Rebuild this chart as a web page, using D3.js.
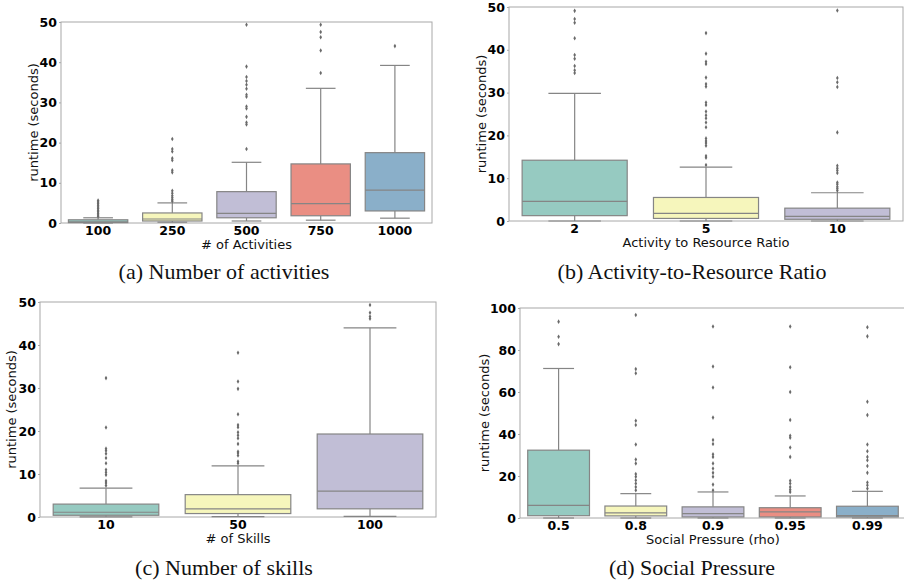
<!DOCTYPE html>
<html>
<head>
<meta charset="utf-8">
<script src="https://cdn.jsdelivr.net/npm/d3@7"></script>
<style>
body { margin: 0; background: #fff; }
</style>
</head>
<body>
<div id="chart"></div>
<script>
// data: [low whisker, q1, median, q3, high whisker]
var actCats = ["100", "250", "500", "750", "1000"];
var actStats = [[0, 0.1, 0.3, 0.8, 1.3], [0.2, 0.5, 1.0, 2.5, 5.0], [0.5, 1.3, 2.4, 7.8, 15.1],
    [0.7, 1.8, 4.8, 14.7, 33.5], [1.2, 3.0, 8.2, 17.5, 39.2]];
var actOut = [[1.6, 2.0, 2.4, 2.8, 3.2, 3.6, 4.0, 4.4, 4.8, 5.2, 5.6],
    [5.4, 5.8, 6.3, 6.8, 7.4, 8.0, 12.6, 13.1, 15.6, 16.1, 17.8, 18.4, 20.9],
    [18.4, 24.5, 25.0, 26.4, 28.5, 29.0, 31.4, 31.9, 33.4, 34.4, 35.3, 36.3, 38.9, 49.3],
    [37.3, 42.9, 46.2, 47.5, 49.3], [44.0]];

var ratioCats = ["2", "5", "10"];
var ratioStats = [[0, 1.25, 4.6, 14.2, 29.8], [0, 0.6, 1.8, 5.5, 12.6], [0, 0.4, 1.1, 3.0, 6.6]];
var ratioOut = [[34.6, 35.2, 36.2, 37.9, 38.8, 42.7, 46.3, 47.2, 49.1],
    [13.1, 14.8, 15.2, 17.6, 18.2, 18.7, 19.3, 21.9, 23.0, 24.0, 24.7, 25.6, 27.1, 27.7,
        31.4, 32.0, 33.5, 36.7, 37.2, 39.1, 43.9],
    [7.1, 7.6, 8.0, 8.6, 9.0, 11.2, 11.8, 12.3, 12.9, 20.7, 31.3, 32.4, 33.4, 49.2]];

var skillCats = ["10", "50", "100"];
var skillStats = [[0.05, 0.4, 1.1, 3.0, 6.7], [0.1, 0.8, 1.9, 5.2, 11.9], [0.15, 1.9, 6.0, 19.3, 44.0]];
var skillOut = [[7.3, 7.9, 8.4, 9.8, 10.4, 11.0, 12.5, 13.7, 14.7, 15.4, 15.9, 20.8, 32.3],
    [12.5, 12.9, 14.3, 14.9, 15.2, 17.0, 18.3, 19.0, 19.7, 20.9, 21.4, 23.9, 29.8, 31.5, 38.2],
    [46.1, 46.6, 47.5, 49.3]];

var rhoCats = ["0.5", "0.8", "0.9", "0.95", "0.99"];
var rhoStats = [[0, 1.1, 6.0, 32.3, 71.2], [0, 1.0, 2.4, 5.7, 11.6], [0, 0.5, 2.1, 5.3, 12.4],
    [0, 0.5, 2.9, 4.9, 10.5], [0, 0.5, 1.1, 5.6, 12.7]];
var rhoOut = [[82.8, 86.3, 93.5],
    [13.2, 14.8, 16.4, 18.0, 19.6, 20.9, 26.0, 27.9, 35.0, 44.3, 46.3, 68.9, 70.9, 96.7],
    [13.2, 15.9, 19.6, 21.5, 23.6, 26.0, 29.1, 30.4, 35.2, 37.1, 47.8, 62.1, 72.1, 91.2],
    [12.4, 13.5, 14.8, 16.4, 17.7, 29.1, 33.6, 38.2, 39.2, 46.7, 60.0, 71.8, 91.2],
    [14.0, 15.6, 16.9, 21.5, 24.8, 27.5, 29.1, 31.8, 35.0, 49.0, 55.4, 86.5, 90.8]];

var ticks50 = [0, 10, 20, 30, 40, 50];
var ticks100 = [0, 20, 40, 60, 80, 100];

// Set3 colours, desaturated like seaborn does
var colors = ["#96cac1", "#f6f6bc", "#c1bed6", "#ea8e83", "#8aafc9"];
var lineColor = "#858585";

var svg = d3.select("#chart").append("svg")
    .attr("width", 904)
    .attr("height", 583);

function drawPanel(p) {
    var x = d3.scaleBand().domain(p.cats).range([0, p.w]);
    var y = d3.scaleLinear().domain([0, p.yMax]).range([p.h, 0]);
    var g = svg.append("g").attr("transform", "translate(" + p.left + "," + p.top + ")");

    // frame
    g.append("rect")
        .attr("width", p.w).attr("height", p.h)
        .attr("fill", "none").attr("stroke", "#a8a8a8").attr("stroke-width", 1);

    var boxW = x.bandwidth() * 0.8;
    p.cats.forEach(function (c, i) {
        var s = p.stats[i];
        var cx = x(c) + x.bandwidth() / 2;
        var b = g.append("g");
        // whiskers
        b.append("line").attr("x1", cx).attr("x2", cx).attr("y1", y(s[1])).attr("y2", y(s[0]))
            .attr("stroke", lineColor).attr("stroke-width", 1.2);
        b.append("line").attr("x1", cx).attr("x2", cx).attr("y1", y(s[3])).attr("y2", y(s[4]))
            .attr("stroke", lineColor).attr("stroke-width", 1.2);
        // caps
        [s[0], s[4]].forEach(function (v) {
            b.append("line").attr("x1", cx - boxW / 4).attr("x2", cx + boxW / 4)
                .attr("y1", y(v)).attr("y2", y(v))
                .attr("stroke", lineColor).attr("stroke-width", 1.2);
        });
        // box
        b.append("rect")
            .attr("x", cx - boxW / 2).attr("width", boxW)
            .attr("y", y(s[3])).attr("height", y(s[1]) - y(s[3]))
            .attr("fill", colors[i]).attr("stroke", lineColor).attr("stroke-width", 1.2);
        // median
        b.append("line").attr("x1", cx - boxW / 2).attr("x2", cx + boxW / 2)
            .attr("y1", y(s[2])).attr("y2", y(s[2]))
            .attr("stroke", lineColor).attr("stroke-width", 1.2);
        // fliers
        b.selectAll("path.out").data(p.out[i]).enter().append("path")
            .attr("class", "out")
            .attr("d", d3.symbol().type(d3.symbolDiamond).size(6))
            .attr("transform", function (d) { return "translate(" + cx + "," + y(d) + ")"; })
            .attr("fill", "#6a6a6a");
    });

    // axes
    var xa = g.append("g")
        .attr("transform", "translate(0," + p.h + ")")
        .call(d3.axisBottom(x).tickSize(0).tickPadding(3));
    var ya = g.append("g")
        .call(d3.axisLeft(y).tickValues(p.ticks).tickSize(2).tickPadding(2));
    [xa, ya].forEach(function (a) {
        a.select(".domain").remove();
        a.selectAll(".tick line").attr("stroke", "#a8a8a8");
        a.selectAll("text")
            .attr("font-family", "DejaVu Sans")
            .attr("font-weight", "bold")
            .attr("font-size", "12.5px")
            .attr("fill", "#000");
    });

    // axis labels
    g.append("text")
        .attr("x", p.w / 2).attr("y", p.h + 26)
        .attr("text-anchor", "middle")
        .attr("font-family", "DejaVu Sans")
        .attr("font-size", "13px").attr("fill", "#111")
        .text(p.xLabel);
    g.append("text")
        .attr("transform", "translate(" + (-p.yLabelOff) + "," + (p.h / 2) + ") rotate(-90)")
        .attr("text-anchor", "middle")
        .attr("dy", "0.35em")
        .attr("font-family", "DejaVu Sans")
        .attr("font-size", "13px").attr("fill", "#111")
        .text("runtime (seconds)");

    // caption
    svg.append("text")
        .attr("x", p.capX).attr("y", p.capY)
        .attr("text-anchor", "middle")
        .attr("font-family", "Liberation Serif")
        .attr("font-size", "22px").attr("fill", "#111")
        .text(p.caption);
}

drawPanel({ left: 61, top: 22, w: 371, h: 201, cats: actCats, stats: actStats, out: actOut,
    yMax: 50, ticks: ticks50, xLabel: "# of Activities", yLabelOff: 28,
    caption: "(a) Number of activities", capX: 224, capY: 279 });
drawPanel({ left: 509, top: 7, w: 394, h: 214, cats: ratioCats, stats: ratioStats, out: ratioOut,
    yMax: 50, ticks: ticks50, xLabel: "Activity to Resource Ratio", yLabelOff: 28,
    caption: "(b) Activity-to-Resource Ratio", capX: 692, capY: 279 });
drawPanel({ left: 40, top: 302, w: 396, h: 215, cats: skillCats, stats: skillStats, out: skillOut,
    yMax: 50, ticks: ticks50, xLabel: "# of Skills", yLabelOff: 29,
    caption: "(c) Number of skills", capX: 224, capY: 575 });
drawPanel({ left: 520, top: 308, w: 386, h: 210, cats: rhoCats, stats: rhoStats, out: rhoOut,
    yMax: 100, ticks: ticks100, xLabel: "Social Pressure (rho)", yLabelOff: 36,
    caption: "(d) Social Pressure", capX: 692, capY: 575 });
</script>
</body>
</html>
